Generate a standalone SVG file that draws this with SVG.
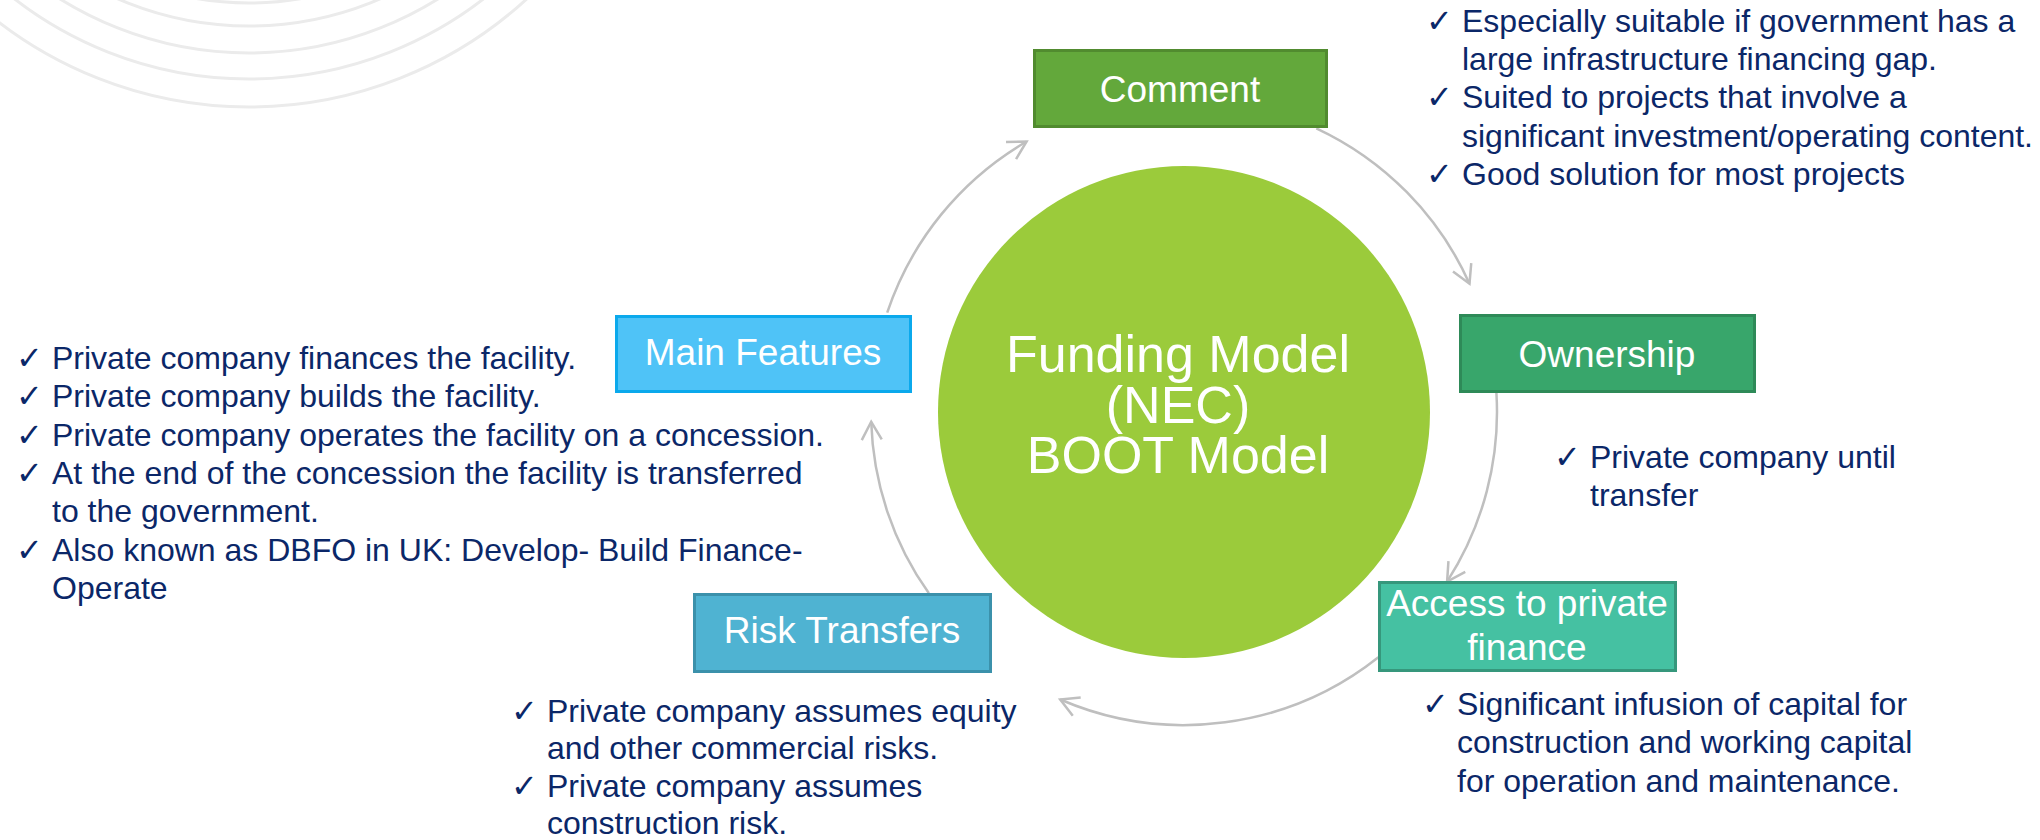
<svg xmlns="http://www.w3.org/2000/svg" width="2040" height="840" viewBox="0 0 2040 840">
<defs>
<style>
.deco{fill:none;stroke:#ebebeb;stroke-width:3}
.conn{fill:none;stroke:#bfbfbf;stroke-width:2.5}
.box{stroke-width:3}
.lbl{font-family:"Liberation Sans",Arial,sans-serif;font-size:37px;fill:#ffffff;text-anchor:middle}
.big{font-family:"Liberation Sans",Arial,sans-serif;font-size:52px;fill:#ffffff;text-anchor:middle}
.txt{font-family:"Liberation Sans",Arial,sans-serif;font-size:32px;fill:#0b2768}
.chk{font-family:"DejaVu Sans",sans-serif;font-size:32px;fill:#0b2768}
</style>
<marker id="arr" viewBox="0 0 24 24" markerWidth="24" markerHeight="24" refX="21" refY="12" orient="auto" markerUnits="userSpaceOnUse">
<path d="M3,2 L21,12 L3,22" fill="none" stroke="#bfbfbf" stroke-width="2.5"/>
</marker>
</defs>
<rect width="2040" height="840" fill="#ffffff"/>
<g id="background">
<circle class="deco" cx="249" cy="-304" r="307"/>
<circle class="deco" cx="249" cy="-304" r="330"/>
<circle class="deco" cx="249" cy="-304" r="357"/>
<circle class="deco" cx="249" cy="-304" r="383"/>
<circle class="deco" cx="249" cy="-304" r="411"/>
</g>
<g id="connectors">
<path class="conn" marker-end="url(#arr)" d="M1316.3,128.3 A313,313 0 0 1 1469.5,283.7"/>
<path class="conn" marker-end="url(#arr)" d="M1496.4,392.9 A313,313 0 0 1 1447.1,581.6"/>
<path class="conn" marker-end="url(#arr)" d="M1378.4,657.3 A313,313 0 0 1 1060.2,699.5"/>
<path class="conn" marker-end="url(#arr)" d="M928.9,593.3 A313,313 0 0 1 871.2,421.8"/>
<path class="conn" marker-end="url(#arr)" d="M887.2,312.7 A313,313 0 0 1 1026.6,141.5"/>
</g>
<g id="center">
<circle cx="1184" cy="412" r="246" fill="#9bcb3b"/>
<text class="big"><tspan x="1178" y="372">Funding Model</tspan><tspan x="1178" y="423">(NEC)</tspan><tspan x="1178" y="473">BOOT Model</tspan></text>
</g>
<g id="comment">
<rect class="box" x="1034.5" y="50.5" width="292" height="76" fill="#63a83b" stroke="#518b2f"/>
<text class="lbl" x="1180" y="102">Comment</text>
</g>
<g id="ownership">
<rect class="box" x="1460.5" y="315.5" width="294" height="76" fill="#38a66b" stroke="#2e8a58"/>
<text class="lbl" x="1607" y="367">Ownership</text>
</g>
<g id="access">
<rect class="box" x="1379.5" y="582.5" width="296" height="88" fill="#45c1a2" stroke="#36977c"/>
<text class="lbl"><tspan x="1527" y="616">Access to private</tspan><tspan x="1527" y="660">finance</tspan></text>
</g>
<g id="risk">
<rect class="box" x="694.5" y="594.5" width="296" height="77" fill="#4fb3d2" stroke="#3b91ab"/>
<text class="lbl" x="842" y="643">Risk Transfers</text>
</g>
<g id="main-features">
<rect class="box" x="616.5" y="316.5" width="294" height="75" fill="#4fc3f7" stroke="#0ba9ec"/>
<text class="lbl" x="763" y="365">Main Features</text>
</g>
<g id="comment-notes">
<text class="chk" x="1426" y="32">✓</text>
<text class="chk" x="1426" y="108">✓</text>
<text class="chk" x="1426" y="185">✓</text>
<text class="txt"><tspan x="1462" y="32">Especially suitable if government has a</tspan><tspan x="1462" y="70">large infrastructure financing gap.</tspan><tspan x="1462" y="108">Suited to projects that involve a</tspan><tspan x="1462" y="147">significant investment/operating content.</tspan><tspan x="1462" y="185">Good solution for most projects</tspan></text>
</g>
<g id="feature-notes">
<text class="chk" x="16" y="369">✓</text>
<text class="chk" x="16" y="407">✓</text>
<text class="chk" x="16" y="446">✓</text>
<text class="chk" x="16" y="484">✓</text>
<text class="chk" x="16" y="561">✓</text>
<text class="txt"><tspan x="52" y="369">Private company finances the facility.</tspan><tspan x="52" y="407">Private company builds the facility.</tspan><tspan x="52" y="446">Private company operates the facility on a concession.</tspan><tspan x="52" y="484">At the end of the concession the facility is transferred</tspan><tspan x="52" y="522">to the government.</tspan><tspan x="52" y="561">Also known as DBFO in UK: Develop- Build Finance-</tspan><tspan x="52" y="599">Operate</tspan></text>
</g>
<g id="ownership-notes">
<text class="chk" x="1554" y="468">✓</text>
<text class="txt"><tspan x="1590" y="468">Private company until</tspan><tspan x="1590" y="506">transfer</tspan></text>
</g>
<g id="access-notes">
<text class="chk" x="1422" y="715">✓</text>
<text class="txt"><tspan x="1457" y="715">Significant infusion of capital for</tspan><tspan x="1457" y="753">construction and working capital</tspan><tspan x="1457" y="792">for operation and maintenance.</tspan></text>
</g>
<g id="risk-notes">
<text class="chk" x="511" y="722">✓</text>
<text class="chk" x="511" y="797">✓</text>
<text class="txt"><tspan x="547" y="722">Private company assumes equity</tspan><tspan x="547" y="759">and other commercial risks.</tspan><tspan x="547" y="797">Private company assumes</tspan><tspan x="547" y="834">construction risk.</tspan></text>
</g>
</svg>
